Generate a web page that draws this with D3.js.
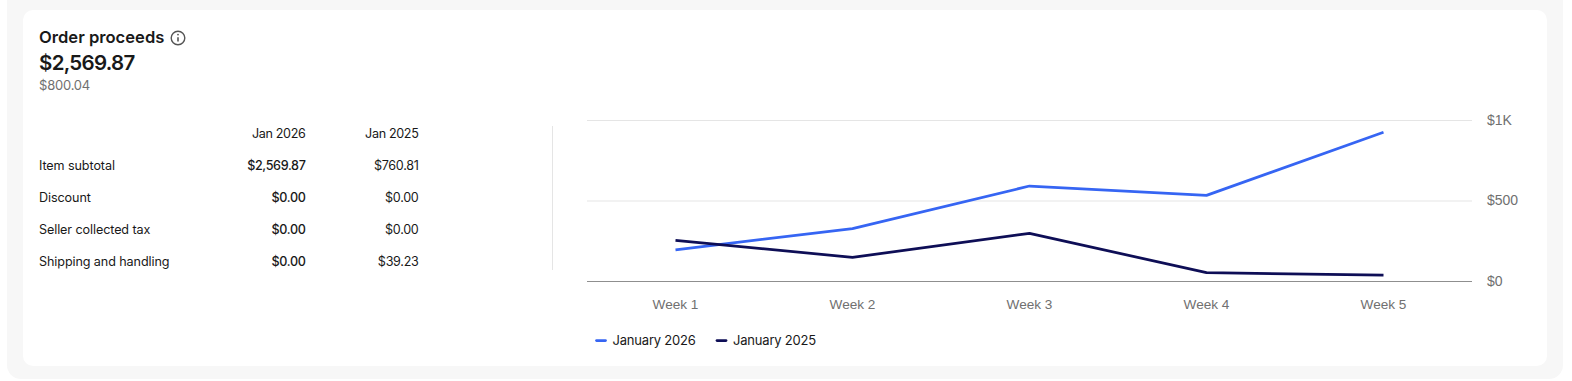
<!DOCTYPE html>
<html>
<head>
<meta charset="utf-8">
<script src="https://d3js.org/d3.v7.min.js"></script>
<style>
  html, body { margin: 0; padding: 0; background: #fff; }
  svg { display: block; font-family: Inter, "Noto Sans", sans-serif; }
</style>
</head>
<body>
<div id="chart"></div>
<script>
const weeks = ['Week 1', 'Week 2', 'Week 3', 'Week 4', 'Week 5'];
const sales2026 = [197, 328, 593, 535, 927];
const sales2025 = [256, 150, 299, 55, 40];
const yTicks = [0, 500, 1000];
const yTickLabels = ['$0', '$500', '$1K'];

const rowNames = ['Item subtotal', 'Discount', 'Seller collected tax', 'Shipping and handling'];
const rows2026 = ['$2,569.87', '$0.00', '$0.00', '$0.00'];
const rows2025 = ['$760.81', '$0.00', '$0.00', '$39.23'];
const tableHeads = ['Jan 2026', 'Jan 2025'];
const legendNames = ['January 2026', 'January 2025'];

const blue = '#3665f3', navy = '#0e0e56', ink = '#191919', grey = '#707070';

const svg = d3.select('#chart').append('svg').attr('width', 1572).attr('height', 381);

// panels
svg.append('rect').attr('x', 7).attr('y', -20).attr('width', 1556).attr('height', 399).attr('rx', 14).attr('fill', '#f7f7f7');
svg.append('rect').attr('x', 23).attr('y', 10).attr('width', 1524).attr('height', 356).attr('rx', 10).attr('fill', '#fff');

// header
svg.append('text').attr('x', 39).attr('y', 43).attr('font-size', 16.6).attr('font-weight', 600).attr('fill', ink).text('Order proceeds');
const info = svg.append('g').attr('transform', 'translate(178,38)').attr('stroke', '#555').attr('fill', 'none');
info.append('circle').attr('r', 6.8).attr('stroke-width', 1.4);
info.append('line').attr('y1', -0.8).attr('y2', 3.6).attr('stroke-width', 1.6);
info.append('circle').attr('cy', -3.4).attr('r', 0.9).attr('fill', '#555').attr('stroke', 'none');
svg.append('text').attr('x', 39).attr('y', 70).attr('font-size', 20.5).attr('font-weight', 600).attr('letter-spacing', -0.7).attr('fill', ink).text('$2,569.87');
svg.append('text').attr('x', 39).attr('y', 90).attr('font-size', 13).attr('letter-spacing', -0.2).attr('fill', grey).text('$800.04');

// table
const rowY = d3.scalePoint().domain(rowNames).range([170, 266]);
const table = svg.append('g').attr('font-size', 12.6).attr('letter-spacing', -0.1).attr('fill', ink);
table.selectAll('text.head').data(tableHeads).join('text').attr('class', 'head')
  .attr('x', (d, i) => i ? 418.5 : 305.5).attr('y', 138).attr('text-anchor', 'end').attr('letter-spacing', -0.35).text(d => d);
table.selectAll('text.name').data(rowNames).join('text').attr('class', 'name')
  .attr('x', 39).attr('y', d => rowY(d)).text(d => d);
table.selectAll('text.cur').data(rows2026).join('text').attr('class', 'cur')
  .attr('x', 305.5).attr('y', (d, i) => rowY(rowNames[i])).attr('text-anchor', 'end').attr('font-weight', 500).attr('letter-spacing', -0.35).text(d => d);
table.selectAll('text.prev').data(rows2025).join('text').attr('class', 'prev')
  .attr('x', 418.5).attr('y', (d, i) => rowY(rowNames[i])).attr('text-anchor', 'end').attr('letter-spacing', -0.3).text(d => d);
svg.append('line').attr('x1', 552.5).attr('x2', 552.5).attr('y1', 126).attr('y2', 270).attr('stroke', '#e5e5e5');

// chart
const x = d3.scaleBand().domain(weeks).range([587, 1472]);
const y = d3.scaleLinear().domain([0, 1000]).range([281.5, 120.5]);
const mid = d => x(d) + x.bandwidth() / 2;

const grid = svg.append('g');
grid.selectAll('line').data(yTicks).join('line')
  .attr('x1', 587).attr('x2', 1472).attr('y1', d => y(d)).attr('y2', d => y(d))
  .attr('stroke', d => d === 0 ? '#8f8f8f' : '#e5e5e5');

const yAxis = d3.axisRight(y).tickValues(yTicks).tickFormat((d, i) => yTickLabels[i]).tickSize(0).tickPadding(15);
svg.append('g').attr('transform', 'translate(1472,0)').call(yAxis)
  .call(g => g.select('.domain').remove())
  .call(g => g.selectAll('text').attr('font-size', 14).attr('font-family', null).attr('fill', grey).attr('dy', '0.25em'));

const xAxis = d3.axisBottom(x).tickSize(0).tickPadding(18);
svg.append('g').attr('transform', 'translate(0,281.5)').call(xAxis)
  .call(g => g.select('.domain').remove())
  .call(g => g.selectAll('text').attr('font-size', 13.6).attr('font-family', null).attr('fill', grey));

const line = d3.line().x((d, i) => mid(weeks[i])).y(d => y(d));
[[sales2026, blue], [sales2025, navy]].forEach(([vals, col]) => {
  svg.append('path').attr('d', line(vals)).attr('fill', 'none').attr('stroke', col)
    .attr('stroke-width', 2.75).attr('stroke-linejoin', 'round');
});

// legend
const legendX = d3.scaleOrdinal().domain(legendNames).range([596.5, 717]);
const legendCol = d3.scaleOrdinal().domain(legendNames).range([blue, navy]);
const legend = svg.append('g').selectAll('g').data(legendNames).join('g')
  .attr('transform', d => `translate(${legendX(d)},340.5)`);
legend.append('line').attr('x2', 9).attr('stroke', d => legendCol(d)).attr('stroke-width', 2.75).attr('stroke-linecap', 'round');
legend.append('text').attr('x', 16).attr('y', 4.5).attr('font-size', 13).attr('letter-spacing', -0.2).attr('fill', ink).text(d => d);
</script>
</body>
</html>
